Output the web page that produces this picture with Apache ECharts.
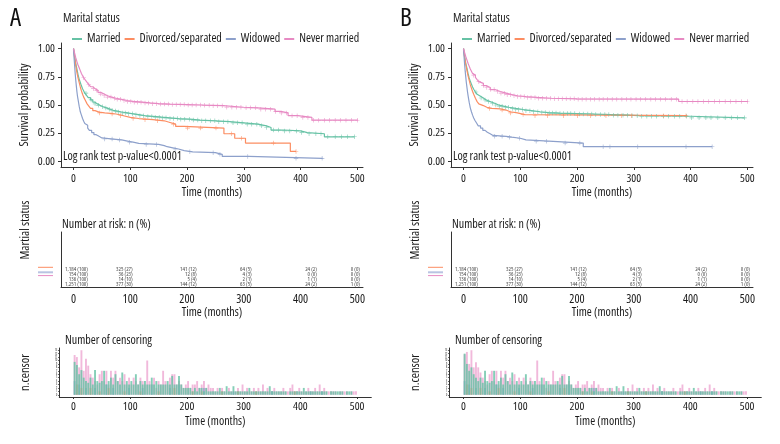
<!DOCTYPE html>
<html><head><meta charset="utf-8">
<script src="https://cdn.jsdelivr.net/npm/echarts@6/dist/echarts.min.js"></script>
<style>html,body{margin:0;padding:0;background:#fff}#c{width:780px;height:444px}</style>
</head><body><div id="c"></div>
<script>
// ---------------- DATA ----------------
const groups = ['Married', 'Divorced/separated', 'Widowed', 'Never married'];
const timeTicks = [0, 100, 200, 300, 400, 500];
const probTicks = [0, 0.25, 0.5, 0.75, 1];
const censorTicks = [0,1,2,3,4,5,6,7,8,9,10,11,12,13];

// Panel A Kaplan-Meier steps [time, survival]
const kmA_married = [[0,1],[2,0.93],[4,0.87],[6,0.82],[8,0.77],[10,0.73],[12,0.70],[14,0.67],[16,0.645],[18,0.625],[20,0.605],[23,0.585],[26,0.565],[30,0.545],[34,0.525],[38,0.51],[42,0.497],[47,0.485],[52,0.474],[58,0.463],[64,0.453],[70,0.446],[77,0.438],[85,0.43],[95,0.422],[105,0.414],[115,0.405],[125,0.399],[140,0.392],[155,0.386],[170,0.38],[185,0.374],[205,0.366],[223,0.36],[250,0.352],[275,0.342],[300,0.33],[325,0.315],[340,0.30],[348,0.278],[370,0.27],[400,0.255],[412,0.245],[442,0.218],[495,0.218]];
const kmA_divorced = [[0,1],[2,0.92],[4,0.85],[6,0.79],[8,0.74],[10,0.70],[12,0.66],[14,0.625],[16,0.595],[18,0.57],[21,0.54],[24,0.51],[27,0.49],[30,0.47],[34,0.45],[38,0.437],[45,0.43],[55,0.425],[65,0.42],[75,0.405],[88,0.39],[100,0.38],[115,0.37],[140,0.36],[160,0.345],[170,0.33],[180,0.31],[195,0.295],[265,0.245],[284,0.205],[303,0.162],[382,0.088],[392,0.088]];
const kmA_widowed = [[0,1],[1,0.92],[2,0.85],[3,0.78],[4,0.72],[5,0.67],[6,0.62],[7,0.58],[8,0.55],[9,0.52],[10,0.49],[11,0.465],[12,0.44],[14,0.41],[16,0.38],[18,0.355],[20,0.335],[22,0.32],[25,0.295],[28,0.275],[32,0.255],[36,0.237],[40,0.222],[45,0.208],[50,0.198],[70,0.19],[85,0.18],[95,0.17],[105,0.16],[115,0.15],[150,0.14],[160,0.13],[165,0.12],[175,0.11],[185,0.095],[195,0.085],[210,0.077],[250,0.062],[262,0.044],[309,0.027],[439,0.027]];
const kmA_never = [[0,1],[2,0.96],[4,0.92],[6,0.885],[8,0.855],[10,0.83],[12,0.805],[14,0.78],[16,0.76],[18,0.742],[21,0.72],[24,0.70],[27,0.68],[30,0.662],[34,0.645],[38,0.63],[43,0.612],[48,0.597],[54,0.582],[60,0.57],[67,0.56],[75,0.55],[85,0.54],[95,0.532],[105,0.525],[120,0.518],[135,0.512],[150,0.508],[170,0.504],[200,0.5],[225,0.497],[245,0.494],[263,0.48],[300,0.475],[325,0.463],[355,0.443],[365,0.43],[378,0.405],[395,0.39],[420,0.365],[501,0.365]];

// Panel B Kaplan-Meier steps [time, survival]
const kmB_married = [[0,1],[2,0.93],[4,0.87],[6,0.83],[8,0.78],[10,0.74],[12,0.71],[14,0.685],[16,0.66],[18,0.64],[21,0.615],[24,0.595],[27,0.578],[30,0.562],[35,0.545],[40,0.53],[47,0.515],[55,0.5],[62,0.49],[70,0.48],[80,0.47],[92,0.46],[105,0.45],[120,0.44],[135,0.433],[150,0.428],[170,0.424],[200,0.42],[230,0.415],[260,0.41],[290,0.405],[310,0.40],[400,0.386],[495,0.386]];
const kmB_divorced = [[0,1],[2,0.92],[4,0.86],[6,0.81],[8,0.76],[10,0.72],[12,0.68],[14,0.65],[16,0.62],[18,0.595],[21,0.56],[24,0.53],[27,0.51],[30,0.495],[35,0.48],[41,0.47],[50,0.465],[65,0.455],[75,0.44],[82,0.43],[95,0.415],[108,0.405],[394,0.405]];
const kmB_widowed = [[0,1],[1,0.93],[2,0.86],[3,0.8],[4,0.75],[5,0.7],[6,0.66],[7,0.62],[8,0.585],[9,0.555],[10,0.525],[11,0.5],[12,0.475],[14,0.44],[16,0.41],[18,0.385],[20,0.365],[23,0.34],[26,0.315],[30,0.295],[34,0.275],[38,0.258],[42,0.245],[47,0.23],[52,0.222],[75,0.215],[85,0.205],[100,0.19],[110,0.178],[158,0.162],[211,0.13],[438,0.13]];
const kmB_never = [[0,1],[2,0.965],[4,0.93],[6,0.9],[8,0.87],[10,0.845],[12,0.82],[14,0.8],[16,0.78],[18,0.765],[21,0.745],[24,0.725],[27,0.707],[30,0.692],[35,0.672],[40,0.655],[47,0.637],[55,0.62],[65,0.605],[75,0.592],[85,0.582],[95,0.575],[110,0.567],[130,0.56],[155,0.555],[200,0.552],[379,0.531],[501,0.531]];

// censoring times (marks on the curves)
const cens_married = [22,31,38,44,51,57,63,68,74,79,86,92,97,104,110,117,123,131,138,144,151,157,163,170,176,183,189,196,204,211,219,226,233,241,249,256,264,272,281,289,297,306,314,323,331,340,352,361,372,381,393,402,415,427,436,448,461,472,483,495];
const cens_divorced = [46,68,83,105,126,148,176,201,224,251,278,296,352,392];
const cens_widowed = [55,68,81,99,128,146,179,205,246,258,307,392,438];
const cens_never = [18,27,35,41,48,54,60,66,72,77,83,89,95,101,107,113,119,126,132,139,146,153,160,167,174,181,188,195,202,209,216,224,231,239,246,254,262,270,279,287,295,304,312,321,330,338,347,356,366,375,385,394,404,413,423,432,442,451,461,470,480,490,500];

// number at risk
const riskTimes = [0, 100, 200, 300, 400, 500];
const risk_married_n = [1184, 325, 141, 64, 24, 0];
const risk_married_p = [100, 27, 12, 5, 2, 0];
const risk_divorced_n = [154, 36, 12, 4, 0, 0];
const risk_divorced_p = [100, 23, 8, 3, 0, 0];
const risk_widowed_n = [136, 14, 5, 2, 1, 0];
const risk_widowed_p = [100, 10, 4, 1, 1, 0];
const risk_never_n = [1251, 377, 144, 63, 24, 1];
const risk_never_p = [100, 30, 12, 5, 2, 0];

// number of censoring per 4-month bin (bins start at 0)
const binWidth = 4;
const ncA_married = [9.6,8.7,6,7.2,5,4,3.5,5,3,7.2, 4,3.5,4,7,3,4,5,3,6,4, 3,6.5,3,4,3,4,3,6,3,4, 3,4,3,3,5,3,4,3,3,3, 3,4,3,5.5,3,3,5.5,3,2,2, 2,2,1,2,1,2,2,1,2,1, 1,1,1,1,2,1,1,2.5,1,1, 2.5,1,1,1,1,1,1,2,1,1, 1,1,1,1,1,1,2.5,1,1,1, 1,1,1,1,0,1,1,1,1,1, 1,2,1,1,1,1,1,1,1,1, 1,1,0,1,1,1,1,1,1,0, 1,1,1,0,0];
const ncA_never = [11.6,11,8,13,7,10.5,8.5,6,5,4, 3,6,7,4,7,3,7,5,7,4, 5,4,6,3,5,3,5,4,3,5, 4,3,10,4,3,5,2,4,3,7, 4,3,5,6,6,3,4,3,2,3, 4,2,3,3,4,2,3,4,2,3, 2,2,1,2,1,2,1,1,2,1, 1,1,2,1,3,1,2,1,1,2, 1,2,1,3,1,2,1,1,2,1, 1,1,2,1,1,2,3,1,1,2, 1,1,1,2,1,1,2,1,3,1, 2,1,1,1,1,1,0,1,1,1, 1,0,1,1,1];
const ncB_married = [12,9,7,8,6,5,4,5,3.5,7, 4,3.5,4,7,3,4,5,3,6,4, 3,6.5,3,4,3,4,3,6,3,4, 3,4,3,3,5,3,4,3,3,3, 3,4,3,5.5,3,3,5.5,3,2,2, 2,2,1,2,1,2,2,1,2,1, 1,1,1,1,2,1,1,2.5,1,1, 2.5,1,1,1,1,1,1,2,1,1, 1,1,1,1,1,1,2.5,1,1,1, 1,1,1,1,0,1,1,1,1,1, 1,2,1,1,1,1,1,1,1,1, 1,1,0,1,1,1,1,1,1,0, 1,1,1,0,0];
const ncB_never = [11.8,12.5,9,13,8,9.5,8,6.5,5,4, 3,6,7,4,7,3,7,5,7,4, 5,4,6,3,5,3,5,4,3,5, 4,3,10,4,3,5,2,4,3,7, 4,3,5,6,6,3,4,3,2,3, 4,2,3,3,4,2,3,4,2,3, 2,2,1,2,1,2,1,1,2,1, 1,1,2,1,3,1,2,1,1,2, 1,2,1,3,1,2,1,1,2,1, 1,1,2,1,1,2,3,1,1,2, 1,1,1,2,1,1,2,1,3,1, 2,1,1,1,1,1,0,1,1,1, 1,0,1,1,1];
// sparse censoring counts [time, count]
const nc_divorced = [[6,3],[14,2],[30,2],[46,1],[62,2],[90,1],[118,1],[150,1],[178,2],[210,1],[226,1],[262,1],[290,1],[322,1],[390,1]];
const nc_widowed = [[2,4],[10,3],[22,2],[38,2],[58,3],[70,2],[98,2],[122,2],[138,3],[170,2],[186,3],[230,2],[282,1],[350,1],[418,1],[438,1]];

// ---------------- STYLE ----------------
const colors = ['#66C2A5', '#FC8D62', '#8DA0CB', '#E78AC3'];
const FONT = "'Open Sans', sans-serif";
const FS = 'condensed';
const AX = '#333';
const TXT = '#1a1a1a';
const colNudge = [14.5, 2.5, 9.7, 8, 16.4, 2.7];
const PLUS = 'path://M-0.14,-1H0.14V-0.14H1V0.14H0.14V1H-0.14V0.14H-1V-0.14H-0.14Z';
const font = (px) => FS + ' ' + px + 'px ' + FONT;

function survAt(km, t) {
  let s = km[0][1];
  for (const p of km) { if (p[0] <= t) s = p[1]; else break; }
  return s;
}

const panels = [
  { dx: 0, label: 'A', km: [kmA_married, kmA_divorced, kmA_widowed, kmA_never], nc: [ncA_married, ncA_never] },
  { dx: 390, label: 'B', km: [kmB_married, kmB_divorced, kmB_widowed, kmB_never], nc: [ncB_married, ncB_never] }
];
const cens = [cens_married, cens_divorced, cens_widowed, cens_never];
const riskN = [risk_married_n, risk_divorced_n, risk_widowed_n, risk_never_n];
const riskP = [risk_married_p, risk_divorced_p, risk_widowed_p, risk_never_p];

const grid = [], xAxis = [], yAxis = [], series = [], legend = [], graphic = [];
const lbl = (extra) => Object.assign({ fontFamily: FONT, fontStyle: FS, color: TXT, fontSize: 11.5 }, extra || {});

panels.forEach((P, pi) => {
  const dx = P.dx;
  const g0 = pi * 3;
  grid.push({ left: 61 + dx, top: 43, width: 302, height: 124 });
  grid.push({ left: 61 + dx, top: 232, width: 302, height: 55 });
  grid.push({ left: 59.3 + dx, top: 348, width: 312, height: 49 });

  // KM axes
  xAxis.push({ gridIndex: g0, type: 'value', min: -22, max: 510,
    axisLine: { show: true, onZero: false, lineStyle: { color: AX, width: 1 } },
    axisTick: { show: true, customValues: timeTicks, length: 3, lineStyle: { color: AX } },
    axisLabel: lbl({ customValues: timeTicks, margin: 6 }), splitLine: { show: false },
    name: 'Time (months)', nameLocation: 'middle', nameGap: 20, nameTextStyle: lbl({ fontSize: 12 }) });
  yAxis.push({ gridIndex: g0, type: 'value', min: -0.05, max: 1.05,
    axisLine: { show: true, onZero: false, lineStyle: { color: AX, width: 1 } },
    axisTick: { show: true, customValues: probTicks, length: 3, lineStyle: { color: AX } },
    axisLabel: lbl({ customValues: probTicks, margin: 6, formatter: v => v.toFixed(2) }), splitLine: { show: false },
    name: 'Survival probability', nameLocation: 'middle', nameGap: 30, nameRotate: 90, nameTextStyle: lbl({ fontSize: 12.5 }) });
  // risk table axes
  xAxis.push({ gridIndex: g0 + 1, type: 'value', min: -22, max: 510,
    axisLine: { show: true, onZero: false, lineStyle: { color: AX, width: 1 } },
    axisTick: { show: false }, axisLabel: lbl({ customValues: timeTicks, margin: 7, fontSize: 12 }), splitLine: { show: false },
    name: 'Time (months)', nameLocation: 'middle', nameGap: 19, nameTextStyle: lbl({ fontSize: 12 }) });
  yAxis.push({ gridIndex: g0 + 1, type: 'value', min: -7.4, max: 3.6, inverse: true,
    axisLine: { show: true, onZero: false, lineStyle: { color: AX, width: 1 } },
    axisTick: { show: false }, axisLabel: { show: false }, splitLine: { show: false } });
  // censor axes
  xAxis.push({ gridIndex: g0 + 2, type: 'value', min: -25, max: 525,
    axisLine: { show: true, onZero: false, lineStyle: { color: AX, width: 1 } },
    axisTick: { show: true, customValues: timeTicks, length: 2, lineStyle: { color: AX } },
    axisLabel: lbl({ customValues: timeTicks, margin: 4 }), splitLine: { show: false },
    name: 'Time (months)', nameLocation: 'middle', nameGap: 19, nameTextStyle: lbl({ fontSize: 12 }) });
  yAxis.push({ gridIndex: g0 + 2, type: 'value', min: -0.65, max: 13.65,
    axisLine: { show: true, onZero: false, lineStyle: { color: AX, width: 1 } },
    axisTick: { show: true, customValues: censorTicks, length: 1, lineStyle: { color: AX } },
    axisLabel: lbl({ customValues: censorTicks, margin: 2, fontSize: 3 }), splitLine: { show: false },
    name: 'n.censor', nameLocation: 'middle', nameGap: 27, nameRotate: 90, nameTextStyle: lbl({ fontSize: 12.5 }) });

  // KM curves and censor marks
  groups.forEach((name, gi) => {
    const km = P.km[gi];
    series.push({ type: 'line', name, step: 'end', xAxisIndex: g0, yAxisIndex: g0, data: km,
      showSymbol: false, symbol: 'none', color: colors[gi], lineStyle: { width: 1.2, color: colors[gi] }, z: 3, animation: false });
    const last = km[km.length - 1][0];
    series.push({ type: 'scatter', name, xAxisIndex: g0, yAxisIndex: g0, symbol: PLUS, symbolSize: 4.5,
      itemStyle: { color: colors[gi] }, z: 4, animation: false, silent: true,
      data: cens[gi].filter(t => t <= last).map(t => [t, survAt(km, t)]) });
  });

  // risk table text
  const riskData = [];
  groups.forEach((name, gi) => {
    riskTimes.forEach((t, ci) => {
      riskData.push({ value: [t, gi], name: riskN[gi][ci].toLocaleString('en-US') + ' (' + riskP[gi][ci] + ')',
        label: { offset: [colNudge[ci], 0] } });
    });
  });
  series.push({ type: 'scatter', xAxisIndex: g0 + 1, yAxisIndex: g0 + 1, symbolSize: 0.1,
    itemStyle: { color: 'rgba(0,0,0,0)' }, silent: true, animation: false, data: riskData,
    label: { show: true, position: 'inside', align: 'right', verticalAlign: 'middle', formatter: '{b}',
      fontFamily: FONT, fontStyle: FS, fontSize: 5.8, color: '#111' } });

  // censoring histogram
  const bins = arr => arr.map((h, i) => [i * binWidth + binWidth / 2, h]);
  const barCommon = { type: 'bar', xAxisIndex: g0 + 2, yAxisIndex: g0 + 2, barWidth: 1.9, barGap: '-100%', animation: false, silent: true };
  series.push(Object.assign({}, barCommon, { name: groups[3], data: bins(P.nc[1]), itemStyle: { color: colors[3], opacity: 0.6 } }));
  series.push(Object.assign({}, barCommon, { name: groups[2], data: nc_widowed, itemStyle: { color: colors[2], opacity: 0.7 } }));
  series.push(Object.assign({}, barCommon, { name: groups[1], data: nc_divorced, itemStyle: { color: colors[1], opacity: 0.7 } }));
  series.push(Object.assign({}, barCommon, { name: groups[0], data: bins(P.nc[0]), itemStyle: { color: colors[0], opacity: 0.8 } }));

  // legend
  legend.push({ left: 67 + dx, top: 28, icon: 'rect', itemWidth: 10, itemHeight: 2, itemGap: 4,
    data: groups, selectedMode: false, textStyle: lbl({ fontSize: 12 }) });

  // texts
  graphic.push({ type: 'text', x: 10 + dx, y: 6, style: { text: P.label, font: font(25), fill: '#111' } });
  graphic.push({ type: 'text', x: 63 + dx, y: 19, style: { text: 'Marital status', font: font(12), fill: TXT, verticalAlign: 'middle' } });
  graphic.push({ type: 'text', x: 63 + dx, y: 157, z: 10, style: { text: 'Log rank test p-value<0.0001', font: font(12), fill: TXT, verticalAlign: 'middle' } });
  graphic.push({ type: 'text', x: 62 + dx, y: 225, style: { text: 'Number at risk: n (%)', font: font(12), fill: TXT, verticalAlign: 'middle' } });
  graphic.push({ type: 'text', x: 65 + dx, y: 341, style: { text: 'Number of censoring', font: font(12), fill: TXT, verticalAlign: 'middle' } });
  graphic.push({ type: 'text', x: 25 + dx, y: 230, rotation: Math.PI / 2,
    style: { text: 'Martial status', font: font(12.5), fill: TXT, align: 'center', verticalAlign: 'middle' } });
  graphic.push({ type: 'line', shape: { x1: 38 + dx, y1: 267.3, x2: 53 + dx, y2: 267.3 }, style: { stroke: colors[1], lineWidth: 1 } });
  graphic.push({ type: 'line', shape: { x1: 38 + dx, y1: 272.3, x2: 53 + dx, y2: 272.3 }, style: { stroke: '#B9C4E2', lineWidth: 2 } });
  graphic.push({ type: 'line', shape: { x1: 38 + dx, y1: 275.6, x2: 53 + dx, y2: 275.6 }, style: { stroke: colors[3], lineWidth: 1 } });
});

const chart = echarts.init(document.getElementById('c'), null, { renderer: 'canvas' });
chart.setOption({ backgroundColor: '#fff', animation: false, grid, xAxis, yAxis, series, legend, graphic });
</script>
</body></html>
